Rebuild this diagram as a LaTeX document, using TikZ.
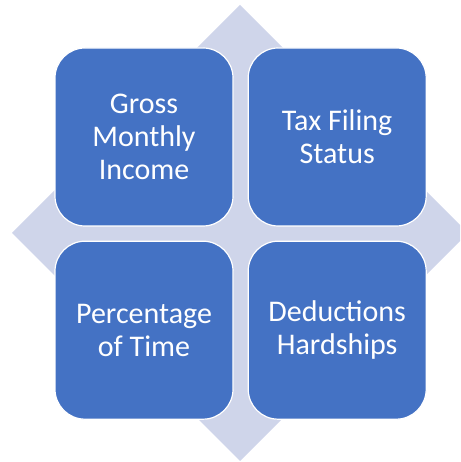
\documentclass[tikz,border=0pt]{standalone}
\usepackage{fontspec}
\setmainfont{Carlito}
\usepackage{xcolor}
\usepackage{tikz}
\usetikzlibrary{positioning}
\definecolor{tileblue}{HTML}{4472C4}
\definecolor{backlav}{HTML}{CFD5EA}

\begin{document}
\begin{tikzpicture}[x=1pt, y=1pt, node distance=14pt,
    tile/.style={draw=white, line width=1.2pt, fill=tileblue, rounded corners=30pt,
        minimum width=178pt, minimum height=178pt, inner sep=0pt, text=white,
        align=center, font=\fontsize{30}{33}\selectfont}]
    \clip (0,0) rectangle (460,462);
    \fill[backlav] (240,457) -- (468,229) -- (240,1) -- (12,229) -- cycle;
    
    \node[tile] (gross) at (144,325) {Gross\\Monthly\\Income};
    \node[tile, right=of gross] (filing) {Tax Filing\\Status};
    \node[tile, below=of gross] (percent) {Percentage\\of Time};
    \node[tile, below=of filing] (deduct) {Deductions\\Hardships};
\end{tikzpicture}
\end{document}
